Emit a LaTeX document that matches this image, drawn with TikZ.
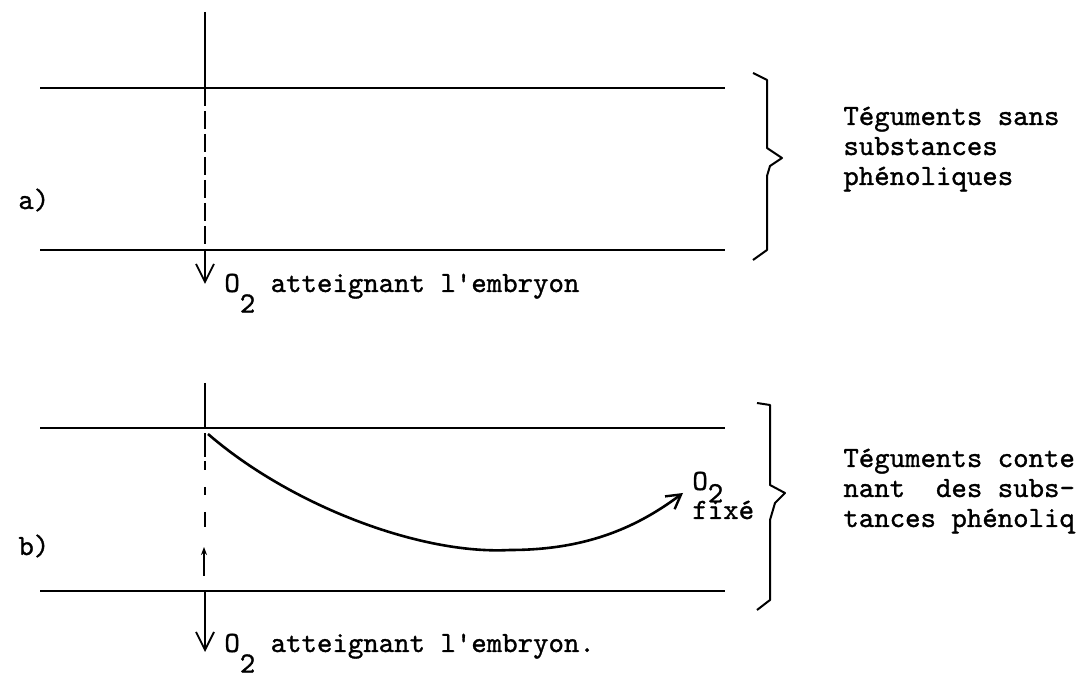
\documentclass[tikz,border=0pt]{standalone}
\usepackage{fontspec}
\newfontfamily\tw{lmmono10-regular.otf}[FakeBold=1]
\usetikzlibrary{arrows.meta}
\begin{document}
\begin{tikzpicture}[x=0.5pt,y=-0.5pt,
  txt/.style={font=\tw\fontsize{14.7pt}{15pt}\selectfont, inner sep=0pt, anchor=base west},
  layer/.style={line width=1pt},
  guide/.style={line width=0.7pt},
  dashguide/.style={line width=1pt},
  brace/.style={line width=1pt, line join=round},
  vee/.style={-{Straight Barb[length=9pt,width=9pt,line width=0.9pt]}},
  flow/.style={line width=1.3pt, -{Straight Barb[length=7pt,width=8pt,line width=1.2pt]}},
  uparrow/.style={line width=1pt, -{Stealth[length=4pt,width=3pt]}}]
\useasboundingbox (0,0) rectangle (1078,678);

% ---------- panel a ----------
\coordinate (aTopL) at (40,88);
\coordinate (aTopR) at (725,88);
\coordinate (aBotL) at (40,250);
\coordinate (aBotR) at (725,250);
\coordinate (aV0) at (205,12);
\coordinate (aV1) at (205,88);
\coordinate (aV2) at (205,250);
\coordinate (aV3) at (205,284);

\draw[layer] (aTopL) -- (aTopR);
\draw[layer] (aBotL) -- (aBotR);
\draw[guide] (aV0) -- (aV1);
\draw[dashguide, dash pattern=on 9pt off 2.5pt] (aV1) -- (aV2);
\draw[guide, vee] (aV2) -- (aV3);

\draw[brace] (753,73) -- (767,80) -- (767,148) -- (782,158) -- (770,166) -- (767,176) -- (767,250) -- (753,260);

\node[txt] (la) at (18,209) {a)};
\node[txt] (ta1) at (843,125) {Téguments sans};
\node[txt] (ta2) at (843,155) {substances};
\node[txt] (ta3) at (843,185) {phénoliques};
\node[txt] (oa) at (224,292) {O\raisebox{-0.7em}{2} atteignant l'embryon};

% ---------- panel b ----------
\coordinate (bTopL) at (40,428);
\coordinate (bTopR) at (725,428);
\coordinate (bBotL) at (40,591);
\coordinate (bBotR) at (725,591);
\coordinate (bV0) at (205,383);
\coordinate (bV1) at (205,428);
\coordinate (bV2) at (205,591);
\coordinate (bV3) at (205,652);
\coordinate (bU0) at (204,576);
\coordinate (bU1) at (204,547);
\coordinate (cs) at (208,434);
\coordinate (cm) at (510,550);
\coordinate (ce) at (683,493);

\draw[layer] (bTopL) -- (bTopR);
\draw[layer] (bBotL) -- (bBotR);
\draw[guide] (bV0) -- (bV1);
\draw[dashguide] (205,433) -- (205,457);
\draw[dashguide] (205,461) -- (205,470);
\draw[dashguide] (205,487) -- (205,495);
\draw[dashguide] (205,512) -- (205,527);
\draw[uparrow] (bU0) -- (bU1);
\draw[guide, vee] (bV2) -- (bV3);

\draw[flow] (cs) .. controls (290,505) and (420,555) .. (cm) .. controls (590,550) and (640,525) .. (ce);

\draw[brace] (757,403) -- (770,405) -- (770,485) -- (785,493) -- (775,503) -- (770,520) -- (770,600) -- (757,610);

\node[txt] (lb) at (18,555) {b)};
\node[txt] (of) at (692,490) {O\smash{\raisebox{-0.42em}{2}}};
\node[txt] (fx) at (692,519) {fixé};
\node[txt] (tb1) at (843,467) {Téguments conte};
\node[txt] (tb2) at (843,497) {nant\ \ des subs-};
\node[txt] (tb3) at (843,527) {tances phénoliq};
\node[txt] (ob) at (224,652) {O\raisebox{-0.7em}{2} atteignant l'embryon.};
\end{tikzpicture}
\end{document}
